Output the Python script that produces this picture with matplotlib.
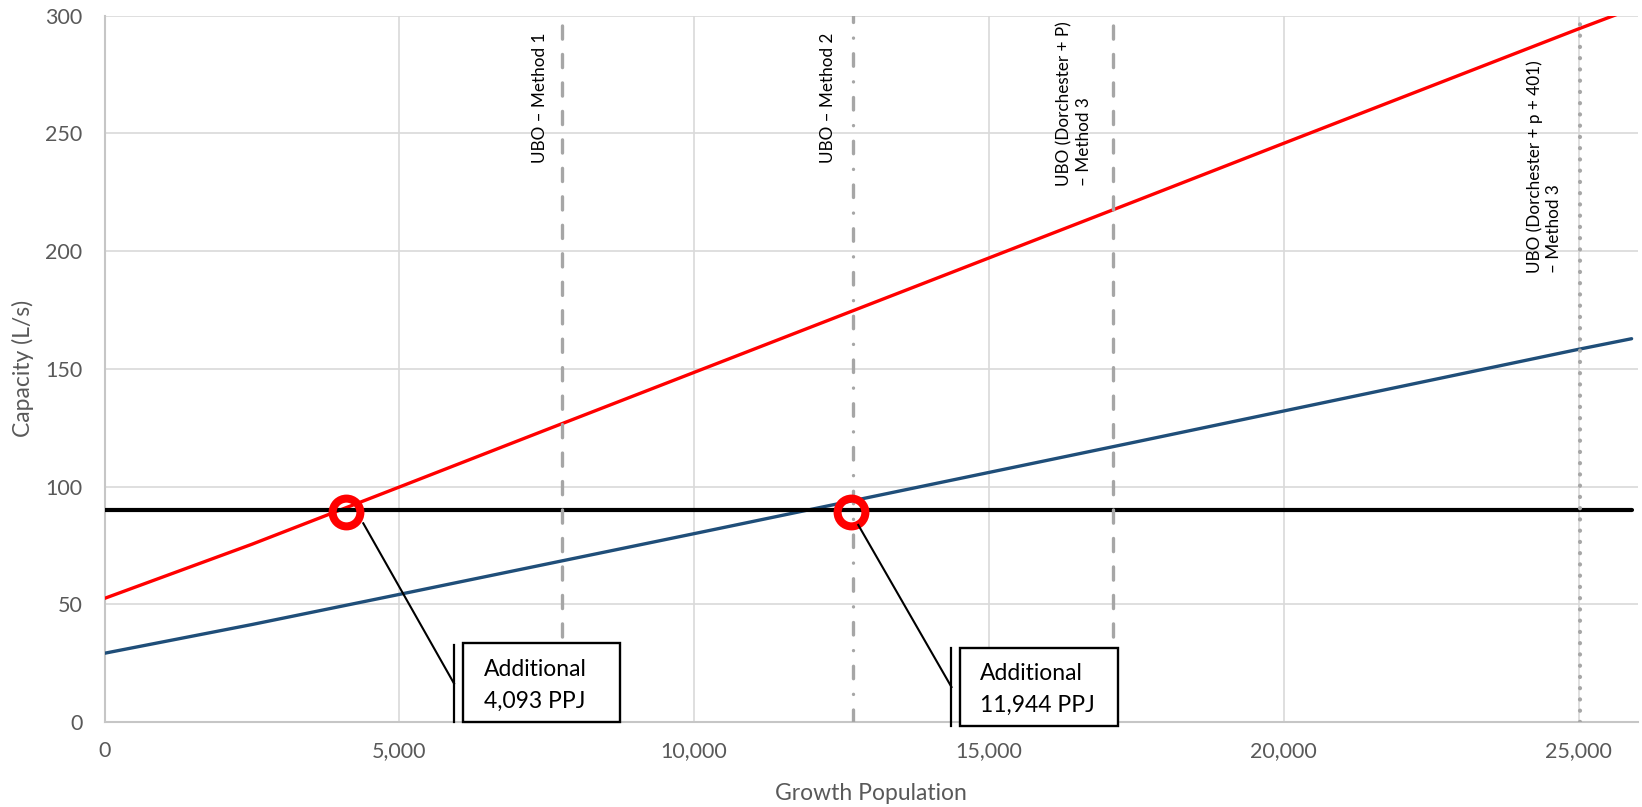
import matplotlib
matplotlib.use("Agg")
import matplotlib.pyplot as plt
from matplotlib.patches import Rectangle

plt.rcParams["font.family"] = ["Lato", "DejaVu Sans"]
plt.rcParams["lines.scale_dashes"] = False

# Growth population (x) and capacity curves (L/s)
population = [0, 2500, 5000, 7500, 10000, 12500, 15000, 17500, 20000, 22500, 25000, 25900]
capacity_red = [52.5, 75.5, 99.8, 124.2, 148.5, 172.8, 197.1, 221.4, 245.8, 270.1, 294.4, 302.9]
capacity_blue = [29.2, 41.4, 54.2, 67.1, 80.0, 93.0, 106.0, 119.0, 132.1, 145.2, 158.3, 162.8]
capacity_limit = 90
limit_x = [0, 25900]

# UBO reference populations
ubo_x = [7765, 12690, 17110, 25025]
ubo_labels = ["UBO – Method 1", "UBO – Method 2",
              "UBO (Dorchester + P)\n– Method 3",
              "UBO (Dorchester + p + 401)\n– Method 3"]

# Highlighted crossings and their callouts
circle_x = [4093, 12660]
circle_y = [89, 89]
callout_lines = ["Additional", "4,093 PPJ"], ["Additional", "11,944 PPJ"]

xticks = [0, 5000, 10000, 15000, 20000, 25000]
yticks = [0, 50, 100, 150, 200, 250, 300]

W, H = 1642, 807
fig = plt.figure(figsize=(W / 100, H / 100), dpi=100)
ax = fig.add_axes([104.5 / W, 1 - 722 / H, (1637.5 - 104.5) / W, (722 - 15.7) / H])
ax.set_xlim(0, 26000)
ax.set_ylim(0, 300)

grid_c = "#d9d9d9"
ax.set_xticks(xticks)
ax.set_yticks(yticks)
ax.set_xticklabels([f"{v:,}" for v in xticks])
ax.set_yticklabels([str(v) for v in yticks])
ax.tick_params(length=0, labelsize=15.5, labelcolor="#595959")
ax.tick_params(axis="y", pad=16)
ax.tick_params(axis="x", pad=14)
ax.grid(True, color=grid_c, lw=1.2, zorder=0)
ax.set_axisbelow(True)
for s in ["top", "right"]:
    ax.spines[s].set_visible(False)
for s in ["left", "bottom"]:
    ax.spines[s].set_color("#c6c6c6")
    ax.spines[s].set_linewidth(1.5)

# Series
ax.plot(population, capacity_red, color="#ff0000", lw=2.4, zorder=3,
        solid_capstyle="round", solid_joinstyle="round")
ax.plot(population, capacity_blue, color="#1f4e79", lw=2.4, zorder=3,
        solid_capstyle="round", solid_joinstyle="round")
ax.plot(limit_x, [capacity_limit, capacity_limit], color="black", lw=3.0, zorder=4,
        solid_capstyle="round")

# UBO vertical markers
gray = "#a6a6a6"
styles = [
    dict(lw=2.4, dashes=(9.5, 11), dash_capstyle="round"),
    dict(lw=2.4, dashes=(9.0, 11.2, 0.1, 11.2), dash_capstyle="round"),
    dict(lw=2.4, dashes=(9.5, 11), dash_capstyle="round"),
    dict(lw=3.0, dashes=(0.1, 8.0), dash_capstyle="round"),
]
for xv, st in zip(ubo_x, styles):
    ax.axvline(xv, color=gray, zorder=5, **st)

label_kw = dict(rotation=90, fontsize=12.3, color="black", zorder=6,
                multialignment="left", linespacing=1.25)
ax.text(7386, 293, ubo_labels[0], ha="center", va="top", **label_kw)
ax.text(12271, 293, ubo_labels[1], ha="center", va="top", **label_kw)
ax.text(16444, 227.7, ubo_labels[2], ha="center", va="bottom", **label_kw)
ax.text(24415, 190.7, ubo_labels[3], ha="center", va="bottom", **label_kw)

# Crossing circles
ax.plot(circle_x, circle_y, linestyle="none", marker="o", markersize=20,
        markerfacecolor="none", markeredgecolor="#ff0000", markeredgewidth=5.8, zorder=7)

# Callouts: leader line, accent bar, box and text
leader_start = [(4389, 84.4), (12784, 83.7)]
bar_x = [5928, 14365]
bar_y = [(0.0, 32.7), (-1.7, 31.4)]
box_x = [(6080, 8743), (14509, 17189)]
box_y = [(0.0, 33.6), (-1.7, 31.4)]
text_x = [6436, 14849]
text_base = [(19.5, 5.9), (17.8, 4.4)]
for i in range(2):
    x0, y0 = leader_start[i]
    ax.plot([x0, bar_x[i]], [y0, (bar_y[i][0] + bar_y[i][1]) / 2], color="black",
            lw=1.5, zorder=8, clip_on=False)
    ax.plot([bar_x[i], bar_x[i]], list(bar_y[i]), color="black", lw=1.6, zorder=8,
            clip_on=False)
    bx0, bx1 = box_x[i]
    by0, by1 = box_y[i]
    ax.add_patch(Rectangle((bx0, by0), bx1 - bx0, by1 - by0, facecolor="white",
                           edgecolor="black", lw=1.7, zorder=8, clip_on=False))
    for line, yb in zip(callout_lines[i], text_base[i]):
        ax.text(text_x[i], yb, line, ha="left", va="baseline", fontsize=16.5,
                color="black", zorder=9, clip_on=False)

# Axis titles
fig.text(23 / W, 1 - 368.5 / H, "Capacity (L/s)", rotation=90, ha="center", va="center",
         fontsize=16.5, color="#595959")
fig.text(871 / W, 1 - 793 / H, "Growth Population", ha="center", va="center",
         fontsize=16.5, color="#595959")

fig.savefig("out.png", dpi=100)
